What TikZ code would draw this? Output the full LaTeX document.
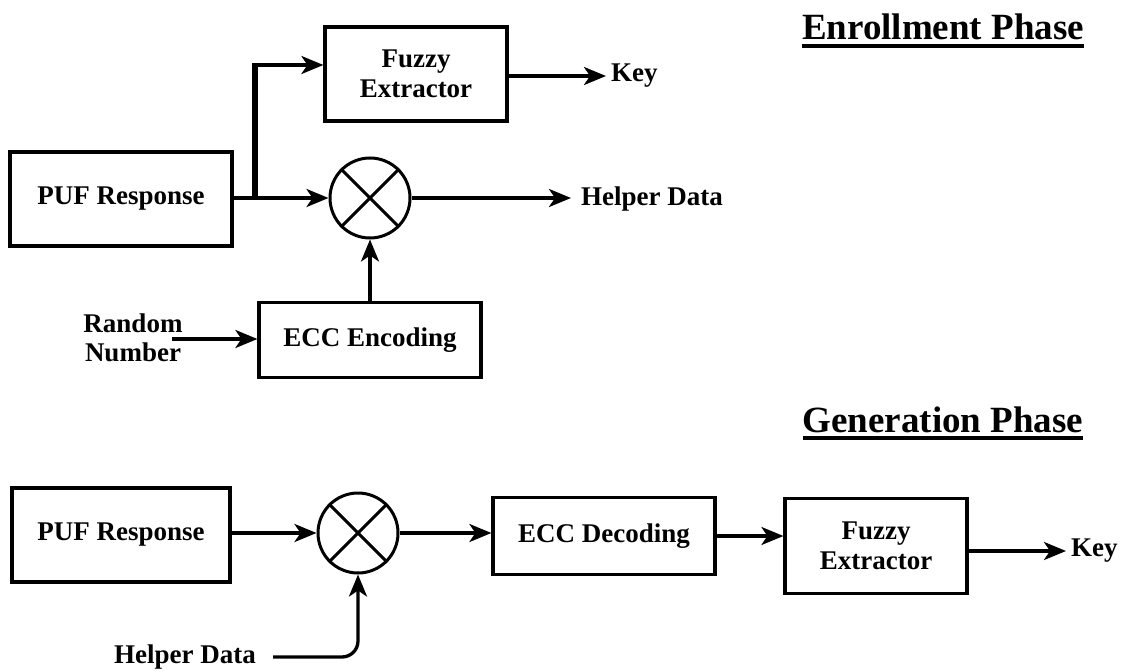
\documentclass[tikz,border=0pt]{standalone}
\usepackage{fontspec}
\setmainfont{Liberation Serif}
\usetikzlibrary{arrows.meta}

\tikzset{
  stagebox/.style={draw=black, line width=3.2pt, fill=white, inner sep=0pt,
    align=center, font=\bfseries\fontsize{27}{30}\selectfont},
  mixer/.style={draw=black, line width=3pt, circle, minimum size=80pt, inner sep=0pt},
  lbl/.style={inner sep=0pt, align=center, font=\bfseries\fontsize{27}{29}\selectfont},
  phase/.style={inner sep=0pt, font=\bfseries\fontsize{37}{40}\selectfont},
  wire/.style={line width=3.3pt, draw=black},
  flow/.style={wire, -{Stealth[length=22pt, width=18pt, inset=6pt]}},
  uline/.style={line width=3.5pt, draw=black},
}

\begin{document}
\begin{tikzpicture}[x=1pt, y=-1pt]
\useasboundingbox[fill=white] (0,0) rectangle (1127,671);

% ---------------- Enrollment phase ----------------
\node[phase, anchor=base] (tenr) at (943,40) {Enrollment Phase};
\draw[uline] ([yshift=-6pt]tenr.base west) -- ([yshift=-6pt]tenr.base east);

\node[stagebox, minimum width=222pt, minimum height=94pt] (puf1) at (121,199) {PUF Response};
\node[stagebox, minimum width=182pt, minimum height=94pt] (fe1) at (416,74) {Fuzzy\\Extractor};
\node[mixer] (mx1) at (370,198) {};
\draw[line width=3pt] (mx1.45) -- (mx1.225) (mx1.135) -- (mx1.315);
\node[stagebox, minimum width=222pt, minimum height=75pt] (enc) at (370,340) {ECC Encoding};

\node[lbl] (rnd) at (133,338) {Random\\Number};
\node[lbl, anchor=west] (key1) at (611,76) {Key};
\node[lbl, anchor=west] (hd1) at (581,199) {Helper Data};

\coordinate (split) at (255,198);
\coordinate (splittop) at (255,65);
\coordinate (rndout) at (172,339);

\draw[wire] (puf1.east |- split) -- (split);
\draw[wire, line width=6pt] (split) -- (splittop);
\draw[flow] ([xshift=-3pt]splittop) -- (fe1.west |- splittop);
\draw[flow] (split) -- (mx1.west);
\draw[flow] (mx1.east) -- ([xshift=-10pt]hd1.west |- mx1.east);
\draw[flow] (fe1.east |- key1) -- ([xshift=-5pt]key1.west);
\draw[flow] (mx1.south |- enc.north) -- (mx1.south);
\draw[flow] (rndout) -- (enc.west |- rndout);

% ---------------- Generation phase ----------------
\node[phase, anchor=base] (tgen) at (943,432) {Generation Phase};
\draw[uline] ([yshift=-6pt]tgen.base west) -- ([yshift=-6pt]tgen.base east);

\node[stagebox, minimum width=218pt, minimum height=94pt] (puf2) at (121,535) {PUF Response};
\node[mixer] (mx2) at (358,533) {};
\draw[line width=3pt] (mx2.45) -- (mx2.225) (mx2.135) -- (mx2.315);
\node[stagebox, minimum width=222pt, minimum height=77pt] (dec) at (604,536) {ECC Decoding};
\node[stagebox, minimum width=182pt, minimum height=95pt] (fe2) at (876,546) {Fuzzy\\Extractor};

\node[lbl, anchor=west] (key2) at (1071,551) {Key};
\node[lbl] (hd2) at (185,657) {Helper Data};
\coordinate (hdout) at (273,657);

\draw[flow] (puf2.east |- mx2) -- (mx2.west);
\draw[flow] (mx2.east) -- (dec.west |- mx2.east);
\draw[flow] (dec.east) -- (fe2.west |- dec.east);
\draw[flow] (fe2.east |- key2) -- ([xshift=-5pt]key2.west);
\draw[flow, rounded corners=16pt] (hdout) -- (mx2.south |- hdout) -- (mx2.south);
\end{tikzpicture}
\end{document}
